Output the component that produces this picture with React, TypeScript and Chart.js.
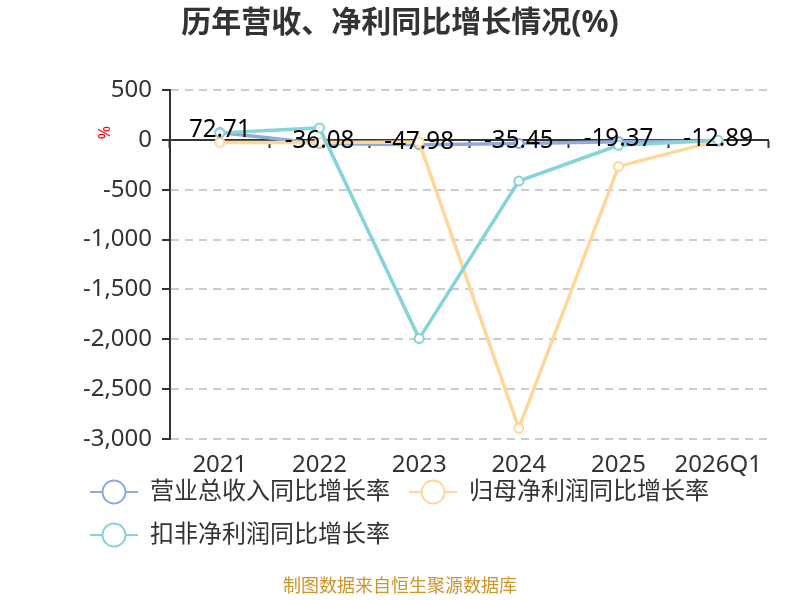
import React, { useEffect, useRef } from "react";
import { Chart, registerables } from "chart.js";

Chart.register(...registerables);

const categories = ["2021", "2022", "2023", "2024", "2025", "2026Q1"];
const revenueGrowth = [72.71, -36.08, -47.98, -35.45, -19.37, -12.89];
const revenueLabels = ["72.71", "-36.08", "-47.98", "-35.45", "-19.37", "-12.89"];
const netProfitGrowth = [-26, -26, -22, -2893, -266, -8];
const deductedProfitGrowth = [70, 120, -1993, -413, -55, -5];
const seriesNames = ["营业总收入同比增长率", "归母净利润同比增长率", "扣非净利润同比增长率"];
const seriesColors = ["#8FAADC", "#FFD899", "#86D4D7"];
const titleText = "历年营收、净利同比增长情况(%)";
const footerText = "制图数据来自恒生聚源数据库";
const yAxisName = "%";

const FONT = "'Noto Sans', 'Noto Sans CJK SC', sans-serif";

function makeLegendIcon(color: string): HTMLCanvasElement {
  const c = document.createElement("canvas");
  c.width = 48;
  c.height = 28;
  const ctx = c.getContext("2d")!;
  ctx.strokeStyle = color;
  ctx.lineWidth = 2;
  ctx.beginPath();
  ctx.moveTo(0, 14);
  ctx.lineTo(48, 14);
  ctx.stroke();
  ctx.beginPath();
  ctx.arc(24, 14, 11.5, 0, Math.PI * 2);
  ctx.fillStyle = "#fff";
  ctx.fill();
  ctx.stroke();
  return c;
}

const labelPlugin = {
  id: "valueLabels",
  afterDatasetsDraw(chart: any) {
    const ctx = chart.ctx;
    const meta = chart.getDatasetMeta(0);
    meta.data.forEach((pt: any, i: number) => {
      ctx.save();
      ctx.translate(pt.x, pt.y - 3);
      ctx.scale(0.93, 1);
      ctx.font = `26px ${FONT}`;
      ctx.fillStyle = "#000";
      ctx.textAlign = "center";
      ctx.textBaseline = "middle";
      ctx.fillText(revenueLabels[i], 0, 0);
      ctx.restore();
    });
  },
  afterDraw(chart: any) {
    const ctx = chart.ctx;
    ctx.save();
    ctx.translate(105.5, 132.5);
    ctx.rotate(-Math.PI / 2);
    ctx.font = `16px ${FONT}`;
    ctx.fillStyle = "#ff0000";
    ctx.textAlign = "center";
    ctx.textBaseline = "middle";
    ctx.fillText(yAxisName, 0, 0);
    ctx.restore();
  },
};

const layoutFixPlugin = {
  id: "layoutFix",
  afterLayout(chart: any) {
    for (const b of chart.boxes) {
      if (b === chart.titleBlock || (b.options && b.options.text === footerText)) {
        b.left = 0;
        b.right = 800;
        b.width = 800;
      }
    }
    const x = chart.scales.x;
    if (x) {
      x.bottom = x.top + 48;
      x.height = 48;
    }
  },
};

export default function App() {
  const ref = useRef<HTMLCanvasElement>(null);

  useEffect(() => {
    if (!ref.current) return;
    const icons = seriesColors.map(makeLegendIcon);
    const series = [revenueGrowth, netProfitGrowth, deductedProfitGrowth];
    const orders = [2, 1, 0];
    const chart = new Chart(ref.current, {
      type: "line",
      data: {
        labels: categories,
        datasets: series.map((d, i) => ({
          label: seriesNames[i],
          data: d,
          borderColor: seriesColors[i],
          backgroundColor: seriesColors[i],
          borderWidth: 3.5,
          pointRadius: 4.5,
          pointBorderWidth: 2,
          pointBackgroundColor: "#fff",
          pointBorderColor: seriesColors[i],
          tension: 0,
          order: orders[i],
          xAxisID: "x",
          yAxisID: "y",
        })),
      },
      options: {
        responsive: false,
        animation: false,
        layout: { padding: { left: 71, right: 32, top: 0, bottom: 0 } },
        plugins: {
          tooltip: { enabled: false },
          title: {
            display: true,
            text: titleText,
            color: "#333",
            font: { family: FONT, size: 30, weight: "bold" },
            padding: { top: 5.5, bottom: 48.5 },
          },
          subtitle: {
            display: true,
            position: "bottom",
            text: footerText,
            color: "#C8962D",
            font: { family: FONT, size: 18, weight: "normal" },
            padding: { top: 19, bottom: 2.4 },
          },
          legend: {
            display: true,
            position: "bottom",
            align: "start",
            labels: {
              font: { family: FONT, size: 24 },
              color: "#333",
              padding: 19,
              usePointStyle: true,
              pointStyleWidth: 48,
              generateLabels: () =>
                seriesNames.map((n, i) => ({
                  text: n,
                  fillStyle: seriesColors[i],
                  strokeStyle: seriesColors[i],
                  fontColor: "#333",
                  lineWidth: 0,
                  pointStyle: icons[i],
                  hidden: false,
                  datasetIndex: i,
                })),
            },
          },
        },
        scales: {
          x: {
            type: "category",
            position: "bottom",
            offset: true,
            border: { display: false },
            grid: { display: false, drawTicks: false },
            ticks: {
              color: "#333",
              font: { family: FONT, size: 24 },
              padding: 12,
              maxRotation: 0,
              autoSkip: false,
            },
            afterFit: (s: any) => {
              s.height = 22;
            },
          },
          x2: {
            type: "category",
            axis: "x",
            position: { y: 0 },
            offset: true,
            border: { display: true, color: "#333", width: 2 },
            grid: {
              offset: true,
              drawOnChartArea: false,
              drawTicks: true,
              tickLength: 7,
              tickColor: "#333",
              tickWidth: 2,
              color: "#333",
            },
            ticks: { display: false },
          },
          y: {
            type: "linear",
            position: "left",
            min: -3000,
            max: 500,
            border: { display: true, color: "#333", width: 2, dash: [8, 6] },
            grid: {
              color: "#CCCCCC",
              lineWidth: 2,
              tickColor: "#333",
              tickWidth: 2,
              tickLength: 8,
              tickBorderDash: [],
            },
            ticks: {
              stepSize: 500,
              color: "#333",
              font: { family: FONT, size: 24 },
              padding: 10,
            },
            afterFit: (s: any) => {
              s.width = 99;
            },
          },
        },
      } as any,
      plugins: [labelPlugin, layoutFixPlugin],
    });
    return () => chart.destroy();
  }, []);

  return (
    <div style={{ position: "fixed", left: 0, top: 0, width: 800, height: 600, background: "#fff" }}>
      <canvas ref={ref} width={800} height={600} style={{ width: 800, height: 600 }} />
    </div>
  );
}
